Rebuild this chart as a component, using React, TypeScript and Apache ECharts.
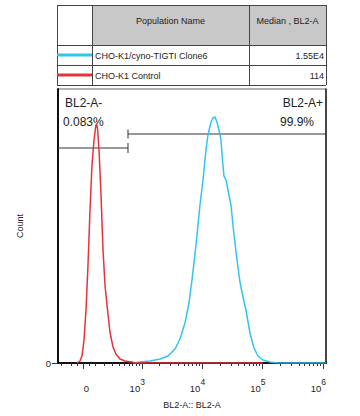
import React, { useEffect, useRef } from "react";
import * as echarts from "echarts";

// Display scale: biexponential-like (asinh) channel positions, in "decades"
const X_MIN = 1.62;
const X_MAX = 6.05;
const BIEX_W = 216;
const BIEX_ZERO = 2.033;
const biex = (v: number) => BIEX_ZERO + Math.asinh(v / BIEX_W) / Math.LN10;

// Histogram of CHO-K1/cyno-TIGTI Clone6 (cyan)
const cyanX = [2.86, 2.975, 3.14, 3.306, 3.438, 3.554, 3.636, 3.719, 3.785, 3.835, 3.901, 3.967, 4.017, 4.066, 4.099, 4.149, 4.182, 4.215, 4.248, 4.281, 4.314, 4.339, 4.364, 4.397, 4.43, 4.479, 4.529, 4.579, 4.628, 4.678, 4.727, 4.793, 4.86, 4.926, 5.008, 5.124, 5.256, 6.05];
const cyanCount = [0, 1, 2, 4, 7, 14, 24, 40, 60, 83, 118, 158, 183, 213, 228, 241, 245, 246, 241, 233, 223, 203, 187, 183, 173, 158, 128, 103, 81, 66, 53, 30, 15, 7, 3, 1, 0, 0];

// Histogram of CHO-K1 Control (red)
const redX = [1.934, 1.983, 2.017, 2.05, 2.083, 2.116, 2.149, 2.182, 2.215, 2.24, 2.256, 2.273, 2.298, 2.331, 2.364, 2.397, 2.43, 2.479, 2.529, 2.579, 2.645, 2.727, 2.843, 2.893, 5.0];
const redCount = [0, 2, 7, 23, 53, 98, 153, 198, 223, 235, 239, 235, 213, 168, 113, 78, 58, 31, 16, 9, 4, 2, 1, 0, 0];

const Y_MAX = 274;

// Axis ticks (raw BL2-A values)
const majorTickValues = [0, 1e3, 1e4, 1e5, 1e6];
const majorTickLabels = ["0", "10{sup|3}", "10{sup|4}", "10{sup|5}", "10{sup|6}"];
const minorTickValues = [
  -200, -100, -50, 50, 100, 200, 300, 400, 500, 600, 700, 800, 900,
  2e3, 3e3, 4e3, 5e3, 6e3, 7e3, 8e3, 9e3,
  2e4, 3e4, 4e4, 5e4, 6e4, 7e4, 8e4, 9e4,
  2e5, 3e5, 4e5, 5e5, 6e5, 7e5, 8e5, 9e5,
];

// Gates
const gateSplit = 2.777;
const gateNegLevel = 215;
const gatePosLevel = 229;
const gateCapHalf = [5, 4.5];
const gateNames = ["BL2-A-", "BL2-A+"];
const gatePercents = ["0.083%", "99.9%"];

// Table
const tableHeaders = ["Population Name", "Median , BL2-A"];
const populations = ["CHO-K1/cyno-TIGTI Clone6", "CHO-K1 Control"];
const medians = ["1.55E4", "114"];
const colors = ["#2ec5ee", "#e8323a"];

const FONT = "Liberation Sans, Arial, sans-serif";

export default function App() {
  const ref = useRef<HTMLDivElement>(null);
  useEffect(() => {
    if (!ref.current) return;
    const chart = echarts.init(ref.current, null, { renderer: "svg" });

    const colX = [57, 92, 249, 326];
    const rowY = [5, 45, 65, 85];
    const tableGraphics: any[] = [
      {
        type: "rect",
        shape: { x: colX[1], y: rowY[0], width: colX[3] - colX[1], height: rowY[1] - rowY[0] },
        style: { fill: "#c8c8c8" },
      },
    ];
    rowY.forEach((y) =>
      tableGraphics.push({
        type: "line",
        shape: { x1: colX[0], y1: y + 0.5, x2: colX[3], y2: y + 0.5 },
        style: { stroke: "#444", lineWidth: 1 },
      })
    );
    colX.forEach((x) =>
      tableGraphics.push({
        type: "line",
        shape: { x1: x + 0.5, y1: rowY[0], x2: x + 0.5, y2: rowY[3] },
        style: { stroke: "#444", lineWidth: 1 },
      })
    );
    tableHeaders.forEach((h, i) =>
      tableGraphics.push({
        type: "text",
        x: (colX[i + 1] + colX[i + 2]) / 2,
        y: 21,
        style: { text: h, fontSize: 9, fontFamily: FONT, fill: "#222", align: "center", verticalAlign: "middle" },
      })
    );
    populations.forEach((p, i) => {
      const cy = (rowY[i + 1] + rowY[i + 2]) / 2;
      tableGraphics.push({
        type: "line",
        shape: { x1: colX[0], y1: cy, x2: colX[1], y2: cy },
        style: { stroke: colors[i], lineWidth: 3 },
      });
      tableGraphics.push({
        type: "text",
        x: colX[1] + 3,
        y: cy + 1,
        style: { text: p, fontSize: 9, fontFamily: FONT, fill: "#222", align: "left", verticalAlign: "middle" },
      });
      tableGraphics.push({
        type: "text",
        x: colX[3] - 2,
        y: cy + 1,
        style: { text: medians[i], fontSize: 9, fontFamily: FONT, fill: "#222", align: "right", verticalAlign: "middle" },
      });
    });

    const gateTexts: any[] = [
      { type: "text", x: 65, y: 103, style: { text: gateNames[0], align: "left" } },
      { type: "text", x: 63, y: 122, style: { text: gatePercents[0], align: "left" } },
      { type: "text", x: 323, y: 103, style: { text: gateNames[1], align: "right" } },
      { type: "text", x: 314, y: 122, style: { text: gatePercents[1], align: "right" } },
    ].map((g) => ({
      ...g,
      style: { ...g.style, fontSize: 12, fontFamily: FONT, fill: "#222", verticalAlign: "middle" },
    }));

    const gateStyle = { color: "#333", width: 1 };
    const gateSeries = [
      [[X_MIN, gateNegLevel], [gateSplit, gateNegLevel]],
      [[gateSplit, gateNegLevel - gateCapHalf[0]], [gateSplit, gateNegLevel + gateCapHalf[0]]],
      [[gateSplit, gatePosLevel], [X_MAX, gatePosLevel]],
      [[gateSplit, gatePosLevel - gateCapHalf[1]], [gateSplit, gatePosLevel + gateCapHalf[1]]],
    ].map((d) => ({
      type: "line",
      data: d,
      symbol: "none",
      silent: true,
      lineStyle: gateStyle,
      z: 1,
    }));

    const majorPos = majorTickValues.map(biex);
    const minorPos = minorTickValues.map(biex).filter((v) => v > X_MIN && v < X_MAX);

    chart.setOption({
      animation: false,
      textStyle: { fontFamily: FONT },
      grid: {
        left: 58,
        right: 34,
        top: 89,
        bottom: 53,
        show: true,
        borderColor: "#666",
        borderWidth: 1,
      },
      xAxis: [
        {
          type: "value",
          min: X_MIN,
          max: X_MAX,
          position: "bottom",
          name: "BL2-A:: BL2-A",
          nameLocation: "middle",
          nameGap: 37,
          nameTextStyle: { fontSize: 9, color: "#222", fontFamily: FONT },
          axisLine: { show: true, onZero: false, lineStyle: { color: "#111", width: 2 } },
          axisTick: { show: true, customValues: majorPos, length: 6, lineStyle: { color: "#333", width: 1 } },
          axisLabel: {
            show: true,
            customValues: majorPos,
            margin: 14,
            padding: [0, 9, 0, 0],
            formatter: (val: number) => {
              const i = majorPos.findIndex((p) => Math.abs(p - val) < 1e-6);
              if (i < 0) return "";
              return i === 0 ? "{zero|0}" : majorTickLabels[i].replace(/^10/, "{base|10}");
            },
            rich: {
              base: { fontSize: 9.5, color: "#222", fontFamily: FONT, verticalAlign: "bottom" },
              zero: { fontSize: 9.5, color: "#222", fontFamily: FONT, padding: [6, 0, 0, 16] },
              sup: { fontSize: 8.5, color: "#222", fontFamily: FONT, verticalAlign: "bottom", padding: [0, 0, 7, 0] },
            },
          },
          splitLine: { show: false },
        },
        {
          type: "value",
          min: X_MIN,
          max: X_MAX,
          position: "bottom",
          axisLine: { show: false },
          axisTick: { show: true, customValues: minorPos, length: 3, lineStyle: { color: "#333", width: 1 } },
          axisLabel: { show: false },
          splitLine: { show: false },
        },
      ],
      yAxis: [
        {
          type: "value",
          min: 0,
          max: Y_MAX,
          name: "Count",
          nameLocation: "middle",
          nameRotate: 90,
          nameGap: 34,
          nameTextStyle: { fontSize: 9, color: "#222", fontFamily: FONT },
          axisLine: { show: true, onZero: false, lineStyle: { color: "#111", width: 2 } },
          axisTick: { show: true, customValues: [0], length: 6, lineStyle: { color: "#333" } },
          axisLabel: { show: true, customValues: [0], margin: 7, fontSize: 9.5, color: "#222", fontFamily: FONT },
          splitLine: { show: false },
        },
        {
          type: "value",
          min: 0,
          max: Y_MAX,
          position: "right",
          axisLine: { show: true, onZero: false, lineStyle: { color: "#222", width: 1.5 } },
          axisTick: { show: false },
          axisLabel: { show: false },
          splitLine: { show: false },
        },
      ],
      series: [
        ...gateSeries,
        {
          type: "line",
          name: populations[0],
          data: cyanX.map((x, i) => [x, cyanCount[i]]),
          symbol: "none",
          lineStyle: { color: colors[0], width: 1.5 },
          z: 2,
        },
        {
          type: "line",
          name: populations[1],
          data: redX.map((x, i) => [x, redCount[i]]),
          symbol: "none",
          lineStyle: { color: colors[1], width: 1.5 },
          z: 3,
        },
      ],
      graphic: [...tableGraphics, ...gateTexts],
    });
    return () => chart.dispose();
  }, []);
  return <div ref={ref} style={{ width: 360, height: 416, position: "absolute", left: 0, top: 0 }} />;
}
